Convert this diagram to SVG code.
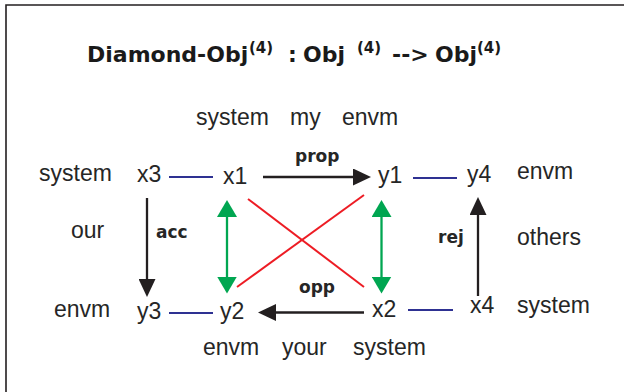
<svg xmlns="http://www.w3.org/2000/svg" width="624" height="392" viewBox="0 0 624 392">
<defs>
<style>
.t{font-family:"Liberation Sans",Arial,sans-serif;font-size:23px;fill:#262626}
.b{font-family:"DejaVu Sans",Verdana,sans-serif;font-weight:bold;font-size:17px;fill:#262626}
.ti{font-family:"DejaVu Sans",Verdana,sans-serif;font-weight:bold;font-size:22px;fill:#1a1a1a}
.sup{font-size:15px}
.blk{stroke:#231f20;stroke-width:2.3;fill:none}
.grn{stroke:#00a651;stroke-width:2.3;fill:none}
.red{stroke:#ed1c24;stroke-width:2;fill:none}
.blu{stroke:#2e3192;stroke-width:2.2;fill:none}
</style>
<marker id="ah" markerUnits="userSpaceOnUse" markerWidth="18" markerHeight="17" refX="12" refY="8.5" orient="auto">
<path d="M0,0 L18,8.5 L0,17 z" fill="#231f20"/>
</marker>
<marker id="gh" markerUnits="userSpaceOnUse" markerWidth="17" markerHeight="20" refX="11" refY="10" orient="auto-start-reverse">
<path d="M0,0 L17,10 L0,20 z" fill="#00a651"/>
</marker>
</defs>
<rect width="624" height="392" fill="#fff"/>
<path d="M6,392 V5 H624" fill="none" stroke="#231f20" stroke-width="1.6"/>

<g id="title">
<text class="ti"><tspan x="87" y="62">Diamond-Obj</tspan><tspan class="sup" x="249" y="52.5">(4)</tspan><tspan x="288" y="62">:</tspan><tspan x="303" y="62">Obj</tspan><tspan class="sup" x="357" y="52.5">(4)</tspan><tspan x="392" y="62">--&gt;</tspan><tspan x="435" y="62">Obj</tspan><tspan class="sup" x="477" y="52.5">(4)</tspan></text>
</g>

<g id="connectors">
<line class="blu" x1="169" y1="177" x2="213" y2="177"/>
<line class="blu" x1="413" y1="178" x2="457" y2="178"/>
<line class="blu" x1="169" y1="313" x2="213" y2="313"/>
<line class="blu" x1="408" y1="310" x2="453" y2="310"/>
<line class="blk" x1="263" y1="177" x2="365" y2="177" marker-end="url(#ah)"/>
<line class="blk" x1="364" y1="312.5" x2="264" y2="312.5" marker-end="url(#ah)"/>
<line class="blk" x1="147" y1="198" x2="147" y2="291" marker-end="url(#ah)"/>
<line class="blk" x1="478" y1="296" x2="478" y2="203" marker-end="url(#ah)"/>
<line class="grn" x1="227" y1="206" x2="227" y2="287.5" marker-start="url(#gh)" marker-end="url(#gh)"/>
<line class="grn" x1="381.5" y1="206" x2="381.5" y2="287.5" marker-start="url(#gh)" marker-end="url(#gh)"/>
<line class="red" x1="248" y1="199" x2="364" y2="287"/>
<line class="red" x1="364" y1="195" x2="237" y2="287"/>
</g>

<g id="node-x3"><text class="t" x="137" y="182">x3</text></g>
<g id="node-x1"><text class="t" x="223" y="184">x1</text></g>
<g id="node-y1"><text class="t" x="378" y="183">y1</text></g>
<g id="node-y4"><text class="t" x="467" y="182">y4</text></g>
<g id="node-y3"><text class="t" x="137" y="319">y3</text></g>
<g id="node-y2"><text class="t" x="220" y="319">y2</text></g>
<g id="node-x2"><text class="t" x="372" y="317">x2</text></g>
<g id="node-x4"><text class="t" x="470" y="313">x4</text></g>

<g id="edge-labels">
<text class="b" x="295" y="162">prop</text>
<text class="b" x="156" y="238">acc</text>
<text class="b" x="438" y="243">rej</text>
<text class="b" x="299" y="293">opp</text>
</g>

<g id="annotations">
<text class="t" x="196" y="125">system</text>
<text class="t" x="290" y="125">my</text>
<text class="t" x="342" y="125">envm</text>
<text class="t" x="39" y="181">system</text>
<text class="t" x="517" y="179">envm</text>
<text class="t" x="71" y="238">our</text>
<text class="t" x="517" y="245">others</text>
<text class="t" x="54" y="317">envm</text>
<text class="t" x="517" y="313">system</text>
<text class="t" x="203" y="355">envm</text>
<text class="t" x="282" y="355">your</text>
<text class="t" x="353" y="355">system</text>
</g>
</svg>
